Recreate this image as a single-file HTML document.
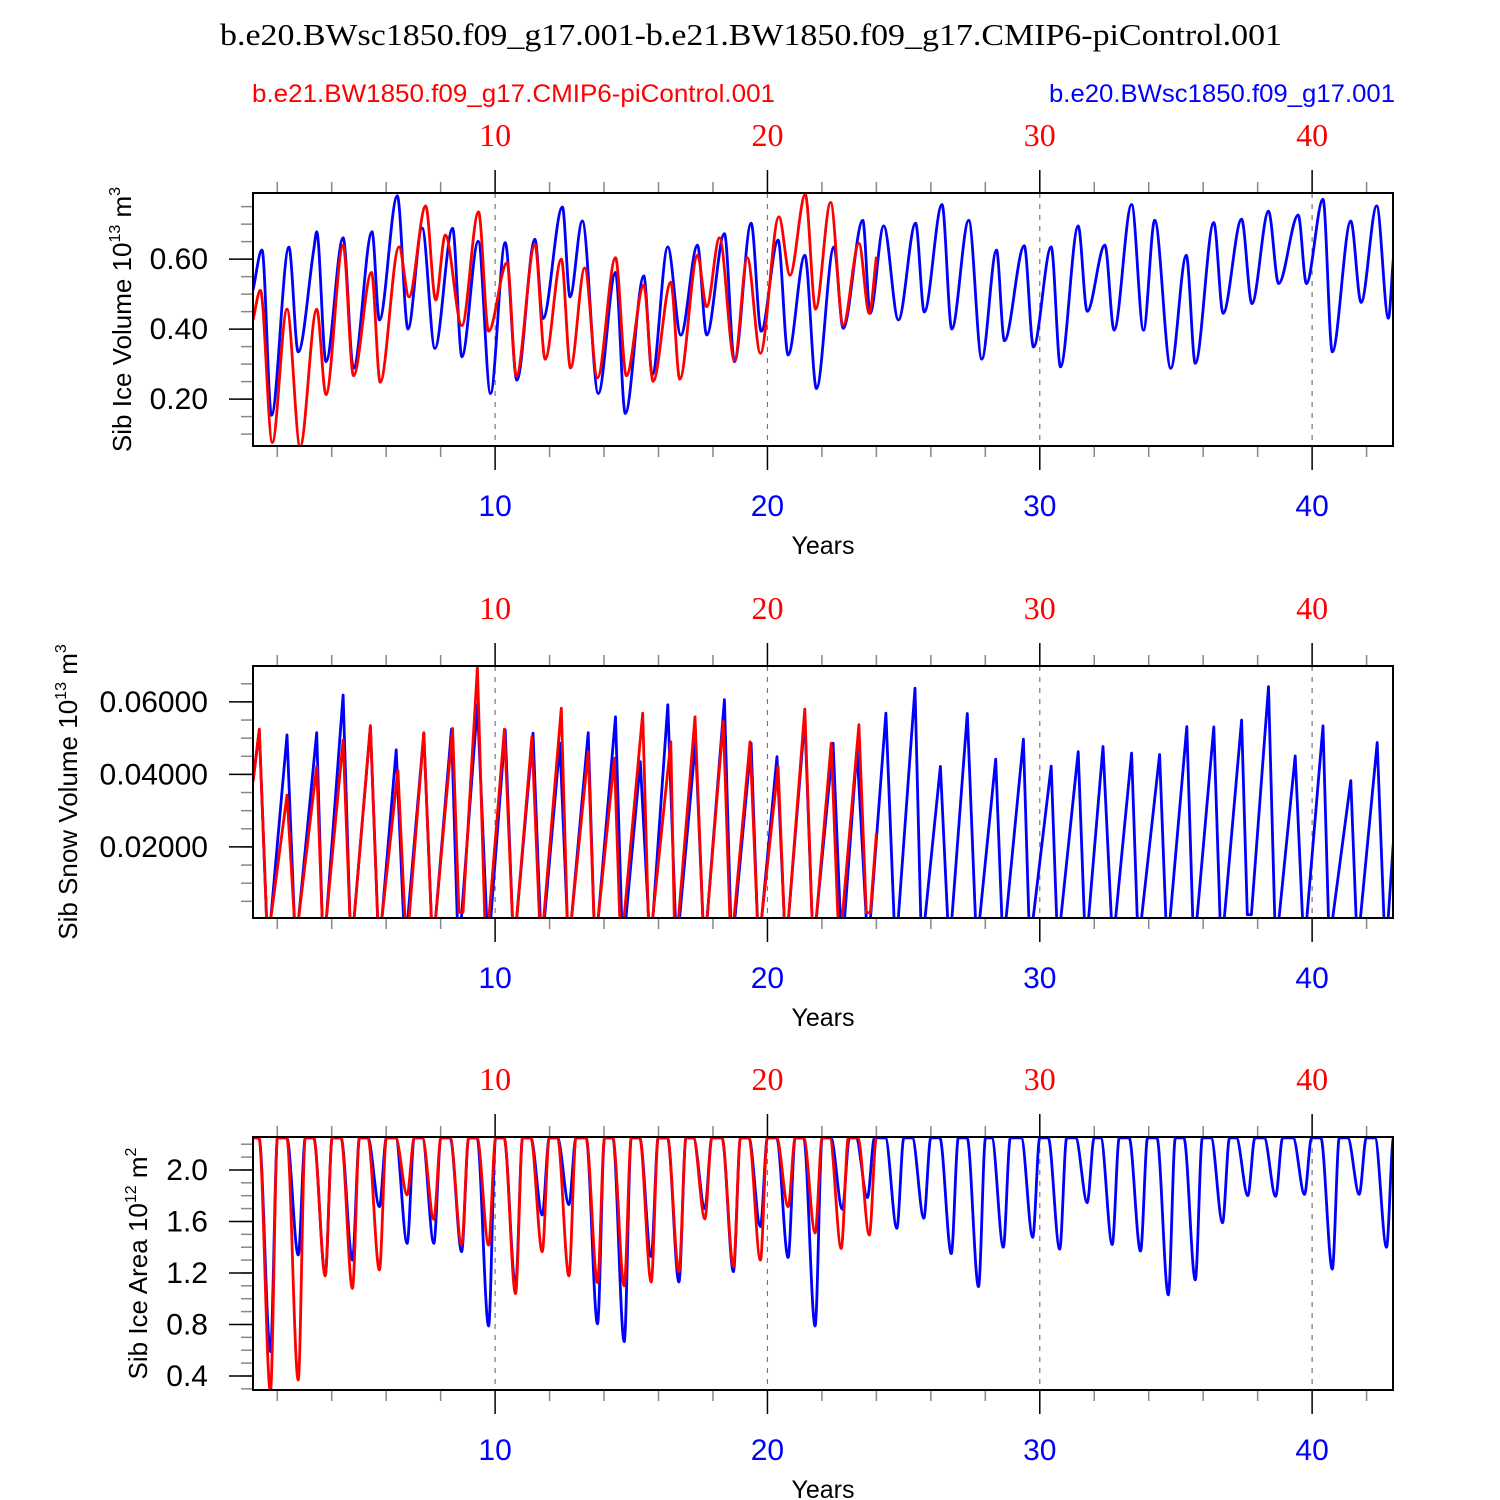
<!DOCTYPE html>
<html><head><meta charset="utf-8"><style>
html,body{margin:0;padding:0;background:#fff;}
svg{display:block;}
</style></head><body>
<svg id="chart" width="1500" height="1500" viewBox="0 0 1500 1500" xmlns="http://www.w3.org/2000/svg">
<text x="220" y="45" font-family="Liberation Serif, serif" font-size="31" textLength="1062" lengthAdjust="spacingAndGlyphs">b.e20.BWsc1850.f09_g17.001-b.e21.BW1850.f09_g17.CMIP6-piControl.001</text>
<text x="252" y="102" fill="#ff0000" font-family="Liberation Sans, sans-serif" font-size="25" textLength="523" lengthAdjust="spacingAndGlyphs">b.e21.BW1850.f09_g17.CMIP6-piControl.001</text>
<text x="1049" y="102" fill="#0000ff" font-family="Liberation Sans, sans-serif" font-size="25" textLength="346" lengthAdjust="spacingAndGlyphs">b.e20.BWsc1850.f09_g17.001</text>
<g id="panels"></g>
</svg>
<script>
// ---- data (years, values) ----
const blueVolT = [1.11,1.44,1.79,2.43,2.77,3.34,3.45,3.79,4.42,4.80,5.48,5.75,6.41,6.80,7.32,7.79,8.44,8.78,9.38,9.83,10.37,10.80,11.46,11.76,12.47,12.75,13.20,13.79,14.42,14.78,15.46,15.77,16.34,16.82,17.43,17.77,18.42,18.79,19.40,19.77,20.39,20.76,21.37,21.80,22.44,22.78,23.50,23.77,24.27,24.81,25.44,25.76,26.41,26.77,27.39,27.87,28.41,28.70,29.43,29.77,30.42,30.76,31.41,31.74,32.39,32.73,33.37,33.81,34.22,34.81,35.38,35.71,36.39,36.73,37.41,37.79,38.40,38.77,39.49,39.79,40.40,40.74,41.42,41.80,42.37,42.80,42.98];
const blueVolV = [.511,.626,.154,.634,.335,.626,.678,.307,.661,.288,.678,.426,.781,.40,.689,.345,.688,.321,.651,.216,.647,.254,.657,.43,.749,.492,.709,.216,.562,.159,.552,.269,.635,.383,.64,.383,.673,.307,.703,.394,.654,.326,.611,.23,.635,.402,.711,.445,.695,.426,.703,.449,.756,.40,.711,.314,.626,.367,.638,.349,.635,.292,.695,.451,.64,.397,.756,.397,.711,.288,.611,.302,.705,.445,.714,.473,.737,.53,.726,.53,.771,.335,.709,.476,.752,.431,.60];
const redVolT = [1.11,1.38,1.82,2.36,2.84,3.45,3.79,4.42,4.80,5.46,5.78,6.47,6.84,7.45,7.82,8.17,8.78,9.39,9.76,10.44,10.78,11.46,11.84,12.43,12.77,13.29,13.76,14.42,14.82,15.46,15.80,16.45,16.78,17.43,17.77,18.24,18.79,19.26,19.74,20.42,20.83,21.39,21.77,22.32,22.78,23.36,23.74,24.0];
const redVolV = [.426,.511,.076,.457,.064,.457,.213,.64,.267,.562,.248,.635,.492,.752,.483,.669,.41,.735,.394,.59,.266,.642,.314,.60,.289,.575,.261,.604,.267,.526,.251,.534,.257,.611,.464,.661,.31,.604,.331,.721,.554,.785,.457,.762,.411,.645,.445,.607];

const blueSnowT = [1.11,1.34,1.61,2.36,2.63,3.45,3.65,4.42,4.67,5.42,5.69,6.37,6.64,7.38,7.66,8.40,8.61,9.35,9.69,10.37,10.64,11.39,11.66,12.38,12.65,13.42,13.63,14.42,14.65,15.33,15.64,16.34,16.62,17.36,17.63,18.42,18.65,19.40,19.63,20.35,20.62,21.37,21.64,22.41,22.68,23.29,23.63,24.35,24.65,25.42,25.63,26.35,26.62,27.34,27.64,28.38,28.61,29.40,29.60,30.42,30.62,31.41,31.64,32.32,32.63,33.37,33.58,34.40,34.63,35.40,35.62,36.39,36.62,37.41,37.62,38.40,38.63,39.38,39.65,40.40,40.60,41.42,41.62,42.39,42.64,42.98];
const blueSnowV = [.038,.0523,0,.0509,0,.0515,0,.0619,0,.0532,0,.0468,0,.0514,0,.0525,0,.0592,0,.0523,0,.0514,0,.0486,0,.0515,0,.0559,0,.0435,0,.0592,0,.049,0,.0606,0,.0486,0,.0449,0,.0555,0,.0486,0,.047,0,.0569,0,.0638,0,.0422,0,.0568,0,.0442,0,.0497,0,.0423,0,.0463,0,.0477,0,.0459,0,.0455,0,.0532,0,.0531,0,.055,.0013,.0642,0,.0451,0,.0534,0,.0383,0,.0488,0,.021];
const redSnowT = [1.11,1.34,1.61,2.36,2.63,3.45,3.65,4.42,4.67,5.42,5.69,6.43,6.69,7.38,7.66,8.44,8.67,9.35,9.62,10.34,10.64,11.35,11.63,12.43,12.65,13.42,13.63,14.38,14.58,15.42,15.63,16.45,16.58,17.34,17.63,18.38,18.62,19.36,19.63,20.39,20.62,21.37,21.64,22.34,22.59,23.36,23.63,24.0];
const redSnowV = [.038,.0525,0,.0343,0,.0422,0,.0495,0,.0535,0,.0412,0,.0515,0,.0527,.002,.0695,0,.0525,0,.0504,0,.0583,0,.0463,0,.0445,0,.0569,0,.049,0,.0559,0,.0546,0,.049,0,.0422,0,.058,0,.0486,0,.0537,.0019,.0238];

const fullArea = 2.25;
const blueDipT = [1.75,2.77,3.76,4.76,5.75,6.77,7.75,8.77,9.76,10.75,11.73,12.71,13.76,14.74,15.73,16.75,17.70,18.75,19.74,20.76,21.75,22.75,23.67,24.75,25.74,26.75,27.75,28.66,29.74,30.73,31.74,32.66,33.70,34.72,35.71,36.71,37.64,38.66,39.72,40.74,41.73,42.73];
const blueDipV = [.589,1.34,1.185,1.3,1.715,1.43,1.43,1.365,.788,1.1,1.65,1.73,.804,.667,1.327,1.13,1.70,1.21,1.56,1.32,.788,1.695,1.785,1.547,1.625,1.35,1.094,1.40,1.477,1.385,1.746,1.42,1.37,1.03,1.146,1.59,1.80,1.795,1.81,1.23,1.81,1.40];
const redDipT = [1.75,2.77,3.76,4.76,5.75,6.77,7.75,8.77,9.76,10.75,11.73,12.71,13.76,14.74,15.73,16.75,17.70,18.75,19.74,20.76,21.75,22.71,23.74];
const redDipV = [.278,.369,1.177,1.08,1.223,1.806,1.617,1.417,1.417,1.04,1.365,1.177,1.125,1.10,1.13,1.21,1.62,1.25,1.30,1.715,1.51,1.39,1.495];
const blueEnd = 42.98, redEnd = 24.0;

const xTickLabels = ["10","20","30","40"];
const xTickVals = [10,20,30,40];
const volTickVals = [0.2,0.4,0.6]; const volTickLabels = ["0.20","0.40","0.60"];
const snowTickVals = [0.02,0.04,0.06]; const snowTickLabels = ["0.02000","0.04000","0.06000"];
const areaTickVals = [0.4,0.8,1.2,1.6,2.0]; const areaTickLabels = ["0.4","0.8","1.2","1.6","2.0"];

// ---- layout ----
const NS = "http://www.w3.org/2000/svg";
const X0 = 253, X1 = 1393, XMIN = 1.11, XMAX = 42.97;
const SNOW_HOLD = 0.15;
const sx = t => X0 + (t - XMIN) / (XMAX - XMIN) * (X1 - X0);
const root = document.getElementById('panels');
function mk(tag, attrs, parent) {
  const e = document.createElementNS(NS, tag);
  for (const k in attrs) e.setAttribute(k, attrs[k]);
  (parent || root).appendChild(e); return e;
}

function monotonePath(P) {
  const n = P.length;
  if (n < 2) return '';
  const dx = [], m = [], s = [];
  for (let i = 0; i < n - 1; i++) { dx[i] = P[i+1][0] - P[i][0]; s[i] = (P[i+1][1] - P[i][1]) / (dx[i] || 1e-6); }
  m[0] = s[0]; m[n-1] = s[n-2];
  for (let i = 1; i < n - 1; i++) {
    if (s[i-1] * s[i] <= 0) m[i] = 0;
    else { const w1 = 2*dx[i] + dx[i-1], w2 = dx[i] + 2*dx[i-1]; m[i] = (w1 + w2) / (w1 / s[i-1] + w2 / s[i]); }
  }
  let d = 'M' + P[0][0].toFixed(1) + ' ' + P[0][1].toFixed(1);
  for (let i = 0; i < n - 1; i++) {
    const h = dx[i] / 3;
    d += 'C' + (P[i][0] + h).toFixed(1) + ' ' + (P[i][1] + m[i]*h).toFixed(1) + ' ' +
         (P[i+1][0] - h).toFixed(1) + ' ' + (P[i+1][1] - m[i+1]*h).toFixed(1) + ' ' +
         P[i+1][0].toFixed(1) + ' ' + P[i+1][1].toFixed(1);
  }
  return d;
}
function linearPath(P) {
  return P.map((q, i) => (i ? 'L' : 'M') + q[0].toFixed(1) + ' ' + q[1].toFixed(1)).join('');
}
function pairsPts(T, V, sy) { return T.map((t, i) => [sx(t), sy(V[i])]); }
function snowPts(T, V, sy) {
  const P = [];
  for (let i = 0; i < T.length; i++) {
    P.push([sx(T[i]), sy(V[i])]);
    if (V[i] < 0.0025 && i > 0 && i < T.length - 1) P.push([sx(T[i] + SNOW_HOLD), sy(V[i])]);
  }
  return P;
}
function dipPts(T, V, end, sy) {
  const P = [[sx(XMIN), sy(fullArea)]];
  for (let i = 0; i < T.length; i++) {
    P.push([sx(T[i] - 0.42), sy(fullArea)]);
    P.push([sx(T[i]), sy(V[i])]);
    P.push([sx(T[i] + 0.26), sy(fullArea)]);
  }
  P.push([sx(end), sy(fullArea)]);
  return P;
}

const panels = [
  {name:'ice-volume', top:193, bot:446, ymin:0.066, ymax:0.789, minor:0.05, mstart:0.1, tv:volTickVals, tl:volTickLabels,
   lab:['Sib Ice Volume 10','13',' m','3'], labX:131},
  {name:'snow-volume', top:666, bot:918, ymin:0.0004, ymax:0.0699, minor:0.005, mstart:0.005, tv:snowTickVals, tl:snowTickLabels,
   lab:['Sib Snow Volume 10','13',' m','3'], labX:77},
  {name:'ice-area', top:1137, bot:1390, ymin:0.291, ymax:2.256, minor:0.1, mstart:0.3, tv:areaTickVals, tl:areaTickLabels,
   lab:['Sib Ice Area 10','12',' m','2'], labX:147}
];

panels.forEach((p, pi) => {
  const sy = v => p.bot - (v - p.ymin) / (p.ymax - p.ymin) * (p.bot - p.top);
  const g = mk('g', {});
  
  
  const cid = 'clip' + pi;
  const cp = mk('clipPath', {id: cid}, g);
  mk('rect', {x: X0, y: p.top, width: X1 - X0, height: p.bot - p.top}, cp);
  xTickVals.forEach(v => {
    const l = mk('line', {x1: sx(v), x2: sx(v), y1: p.top, y2: p.bot, stroke: '#777', 'stroke-width': 1.2, 'stroke-dasharray': '5,6'}, g);
    
    
  });
  for (let t = 2; t <= 42; t += 2) {
    if (t % 10 === 0) continue;
    mk('line', {x1: sx(t), x2: sx(t), y1: p.top - 11, y2: p.top, stroke: '#888', 'stroke-width': 1.5}, g);
    mk('line', {x1: sx(t), x2: sx(t), y1: p.bot, y2: p.bot + 11, stroke: '#888', 'stroke-width': 1.5}, g);
  }
  xTickVals.forEach((v, i) => {
    mk('line', {x1: sx(v), x2: sx(v), y1: p.top - 23, y2: p.top, stroke: '#000', 'stroke-width': 1.5}, g);
    mk('line', {x1: sx(v), x2: sx(v), y1: p.bot, y2: p.bot + 24, stroke: '#000', 'stroke-width': 1.5}, g);
    const tt = mk('text', {x: sx(v), y: p.top - 47, 'text-anchor': 'middle', fill: '#ff0000', 'font-family': 'Liberation Serif, serif', 'font-size': 32}, g);
    tt.textContent = xTickLabels[i];
    
    
    const bt = mk('text', {x: sx(v), y: p.bot + 70, 'text-anchor': 'middle', fill: '#0000ff', 'font-family': 'Liberation Sans, sans-serif', 'font-size': 30}, g);
    bt.textContent = xTickLabels[i];
    
    
  });
  const yt = mk('text', {x: 823, y: p.bot + 108, 'text-anchor': 'middle', 'font-family': 'Liberation Sans, sans-serif', 'font-size': 25}, g);
  yt.textContent = 'Years';
  
  
  for (let v = p.mstart; v < p.ymax; v += p.minor) {
    if (v < p.ymin) continue;
    mk('line', {x1: X0 - 12, x2: X0, y1: sy(v), y2: sy(v), stroke: '#888', 'stroke-width': 1.5}, g);
  }
  p.tv.forEach((v, i) => {
    mk('line', {x1: X0 - 24, x2: X0, y1: sy(v), y2: sy(v), stroke: '#000', 'stroke-width': 1.5}, g);
    const t = mk('text', {x: 208, y: sy(v) + 10, 'text-anchor': 'end', 'font-family': 'Liberation Sans, sans-serif', 'font-size': 30}, g);
    t.textContent = p.tl[i];
    
    
  });
  const cy = (p.top + p.bot) / 2;
  const yl = mk('text', {x: 0, y: 0, 'text-anchor': 'middle', transform: 'translate(' + p.labX + ',' + cy + ') rotate(-90)', 'font-family': 'Liberation Sans, sans-serif', 'font-size': 26}, g);
  
  
  const s1 = mk('tspan', {}, yl); s1.textContent = p.lab[0];
  const s2 = mk('tspan', {dy: -11, 'font-size': 16}, yl); s2.textContent = p.lab[1];
  const s3 = mk('tspan', {dy: 11}, yl); s3.textContent = p.lab[2];
  const s4 = mk('tspan', {dy: -11, 'font-size': 16}, yl); s4.textContent = p.lab[3];
  const sg = mk('g', {'clip-path': 'url(#' + cid + ')'}, g);
  let bd, rd;
  if (pi === 0) { bd = monotonePath(pairsPts(blueVolT, blueVolV, sy)); rd = monotonePath(pairsPts(redVolT, redVolV, sy)); }
  else if (pi === 1) { bd = linearPath(snowPts(blueSnowT, blueSnowV, sy)); rd = linearPath(snowPts(redSnowT, redSnowV, sy)); }
  else { bd = monotonePath(dipPts(blueDipT, blueDipV, blueEnd, sy)); rd = monotonePath(dipPts(redDipT, redDipV, redEnd, sy)); }
  const bl = mk('path', {d: bd, fill: 'none', stroke: '#0000ff', 'stroke-width': 2.8, 'stroke-linejoin': 'round'}, sg);
  
  
  const rl = mk('path', {d: rd, fill: 'none', stroke: '#ff0000', 'stroke-width': 2.8, 'stroke-linejoin': 'round'}, sg);
  
  
  const fr = mk('rect', {x: X0, y: p.top, width: X1 - X0, height: p.bot - p.top, fill: 'none', stroke: '#000', 'stroke-width': 2}, g);
  
  
});
</script>
</body></html>
